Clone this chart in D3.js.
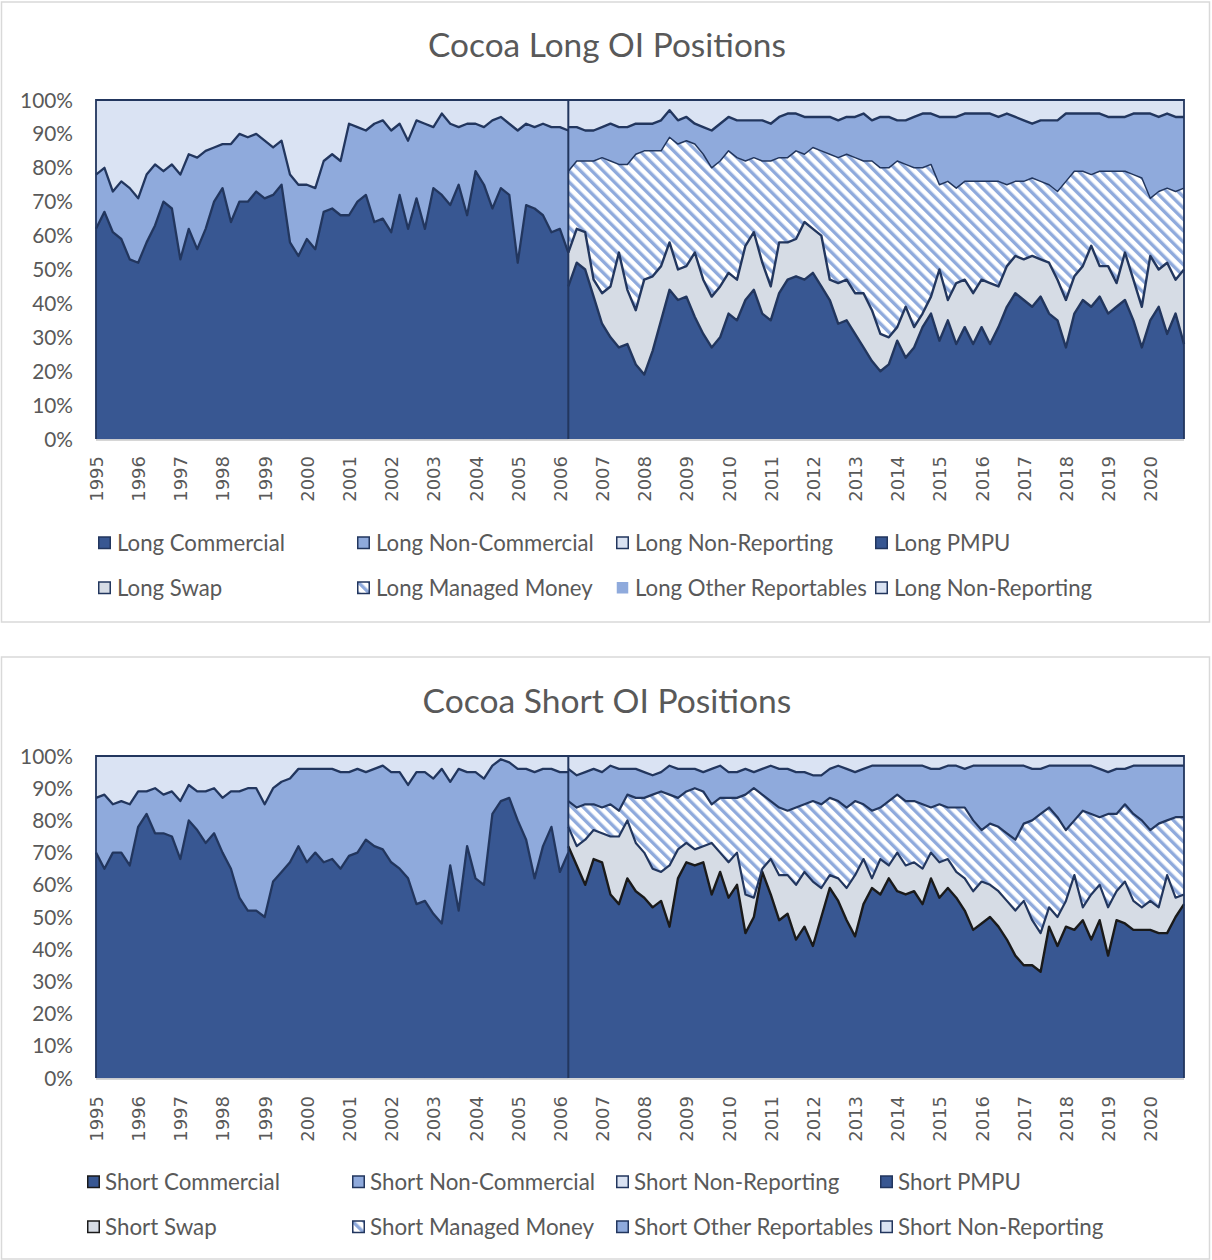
<!DOCTYPE html>
<html><head><meta charset="utf-8">
<script src="https://cdn.jsdelivr.net/npm/d3@7"></script>
<style>body{margin:0;background:#fff}svg{display:block}</style>
</head><body><svg id="c" width="1212" height="1260"></svg>
<script>
// ---------- categories (decimal years) ----------
const preYears = [1995.0,1995.2,1995.4,1995.6,1995.8,1996.0,1996.2,1996.4,1996.6,1996.8,1997.0,1997.2,1997.4,1997.6,1997.8,1998.0,1998.2,1998.4,1998.6,1998.8,1999.0,1999.2,1999.4,1999.6,1999.8,2000.0,2000.2,2000.4,2000.6,2000.8,2001.0,2001.2,2001.4,2001.6,2001.8,2002.0,2002.2,2002.4,2002.6,2002.8,2003.0,2003.2,2003.4,2003.6,2003.8,2004.0,2004.2,2004.4,2004.6,2004.8,2005.0,2005.2,2005.4,2005.6,2005.8,2006.0,2006.2];
const postYears = [2006.2,2006.4,2006.6,2006.8,2007.0,2007.2,2007.4,2007.6,2007.8,2008.0,2008.2,2008.4,2008.6,2008.8,2009.0,2009.2,2009.4,2009.6,2009.8,2010.0,2010.2,2010.4,2010.6,2010.8,2011.0,2011.2,2011.4,2011.6,2011.8,2012.0,2012.2,2012.4,2012.6,2012.8,2013.0,2013.2,2013.4,2013.6,2013.8,2014.0,2014.2,2014.4,2014.6,2014.8,2015.0,2015.2,2015.4,2015.6,2015.8,2016.0,2016.2,2016.4,2016.6,2016.8,2017.0,2017.2,2017.4,2017.6,2017.8,2018.0,2018.2,2018.4,2018.6,2018.8,2019.0,2019.2,2019.4,2019.6,2019.8,2020.0,2020.2,2020.4,2020.6,2020.8];
const yearTicks = ["1995","1996","1997","1998","1999","2000","2001","2002","2003","2004","2005","2006","2007","2008","2009","2010","2011","2012","2013","2014","2015","2016","2017","2018","2019","2020"];
const pctTicks = [0,10,20,30,40,50,60,70,80,90,100];

// ---------- LONG: cumulative levels (% of open interest) ----------
const longCommercial      = [62,67,61,59,53,52,58,63,70,68,53,62,56,62,70,74,64,70,70,73,71,72,75,58,54,59,56,67,68,66,66,70,72,64,65,61,72,62,71,62,74,72,69,75,66,79,75,68,74,72,52,69,68,66,61,62,55];
const longCommPlusNonComm = [78,80,73,76,74,71,78,81,79,81,78,84,83,85,86,87,87,90,89,90,88,86,88,78,75,75,74,82,84,82,93,92,91,93,94,91,93,88,94,93,92,96,93,92,93,93,92,94,95,93,91,93,92,93,92,92,91];
const longPMPU            = [45,52,50,42,34,30,27,28,22,19,26,35,44,41,42,36,31,27,30,37,35,41,44,37,35,43,47,48,47,49,45,41,34,35,31,27,23,20,22,29,24,27,33,37,29,35,28,33,28,33,28,33,39,43,41,39,42,37,35,27,37,41,39,42,37,39,41,35,27,35,39,31,37,28];
const longToSwap          = [55,62,61,47,43,45,55,44,38,47,48,51,58,50,51,55,47,42,45,49,47,57,61,52,45,58,58,59,64,62,60,47,46,47,43,43,38,31,30,33,39,33,37,42,50,41,46,47,43,47,46,45,51,54,53,54,53,52,47,41,48,51,57,51,51,46,55,47,39,54,50,52,47,50];
const longToManagedMoney  = [79,82,82,82,83,82,81,81,84,85,85,85,89,87,88,87,84,80,82,85,83,82,83,82,82,83,83,85,84,86,85,84,83,84,83,82,82,80,80,82,81,80,80,81,75,76,74,76,76,76,76,76,75,76,76,77,76,75,73,76,79,79,78,79,79,79,79,78,77,71,73,74,73,74];
const longToOtherRept     = [92,92,91,91,92,93,92,92,93,93,93,94,97,94,95,93,92,91,93,95,94,94,94,94,93,95,96,96,95,95,95,95,94,95,95,96,94,95,95,94,94,95,96,96,95,95,95,96,96,96,96,95,96,95,94,93,94,94,94,96,96,96,96,96,95,95,95,96,96,96,95,96,95,95];

// ---------- SHORT: cumulative levels (% of open interest) ----------
const shortCommercial      = [70,65,70,70,66,78,82,76,76,75,68,80,77,73,76,70,65,56,52,52,50,61,64,67,72,67,70,67,68,65,69,70,74,72,71,67,65,62,54,55,51,48,66,52,72,62,60,82,86,87,80,74,62,72,78,64,70];
const shortCommPlusNonComm = [87,88,85,86,85,89,89,90,88,89,86,91,89,89,90,87,89,89,90,90,85,90,92,93,96,96,96,96,96,95,95,96,95,96,97,95,95,91,95,95,93,96,92,96,95,95,93,97,99,98,96,96,95,96,96,95,95];
const shortPMPU            = [72,66,60,68,67,57,54,62,58,56,53,55,47,62,67,66,67,57,64,56,60,45,50,64,57,49,51,43,47,41,50,59,55,49,44,54,59,57,62,58,57,58,54,62,56,59,56,52,46,48,50,47,43,38,35,35,33,47,41,47,46,49,43,49,38,49,48,46,46,46,45,45,50,54];
const shortToSwap          = [78,72,74,77,76,75,75,80,73,70,65,64,66,71,73,71,72,73,70,67,70,57,56,65,68,63,63,60,64,61,59,63,62,59,63,68,62,68,66,70,66,67,65,70,67,68,64,62,58,61,60,58,55,52,55,49,45,53,50,55,63,53,57,60,53,58,61,55,53,55,53,63,56,57];
const shortToManagedMoney  = [86,84,85,85,84,85,83,88,87,87,88,89,88,87,89,90,89,85,87,87,87,88,90,88,86,84,83,84,85,86,85,87,86,84,86,85,83,84,86,88,86,86,85,84,85,84,84,84,80,77,79,78,76,74,79,80,82,84,81,77,80,83,82,81,82,82,85,82,80,77,79,80,81,81];
const shortToOtherRept     = [96,94,95,96,95,97,96,96,96,95,94,95,97,96,96,96,95,96,97,95,95,96,95,96,97,96,96,95,95,94,94,96,97,96,95,96,97,97,97,97,97,97,97,96,96,97,97,96,97,97,97,97,97,97,97,96,96,97,97,97,97,97,97,96,95,96,96,97,97,97,97,97,97,97];

const longLegend  = ["Long Commercial","Long Non-Commercial","Long Non-Reporting","Long PMPU","Long Swap","Long Managed Money","Long Other Reportables","Long Non-Reporting"];
const shortLegend = ["Short Commercial","Short Non-Commercial","Short Non-Reporting","Short PMPU","Short Swap","Short Managed Money","Short Other Reportables","Short Non-Reporting"];

// ---------- styling ----------
const C = {dark:"#385792", med:"#8faadc", light:"#dae3f3", swap:"#d6dce5", line:"#22365e", black:"#1a1a1a", text:"#595959", hatch:"url(#hatch)"};
const FONT = "Lato, 'Open Sans', sans-serif";

const svg = d3.select("#c");
const defs = svg.append("defs");
const pat = defs.append("pattern").attr("id","hatch").attr("patternUnits","userSpaceOnUse")
  .attr("width",8).attr("height",8).attr("patternTransform","rotate(-45)");
pat.append("rect").attr("width",8).attr("height",8).attr("fill","#fff");
pat.append("rect").attr("width",3.4).attr("height",8).attr("fill",C.med);

const x = d3.scaleLinear().domain([1995, 2020.8]).range([96, 1184]);

function fitWidth(sel, target){
  const w = sel.node().getComputedTextLength();
  const fs = parseFloat(sel.attr("font-size"));
  return fs * target / w;
}

function drawChart(cfg){
  const g = svg.append("g");
  g.append("rect").attr("x",1.5).attr("y",cfg.panelTop).attr("width",1208).attr("height",cfg.panelH)
    .attr("fill","#fff").attr("stroke","#d9d9d9").attr("stroke-width",1.5);

  const t = g.append("text").text(cfg.title).attr("x",607).attr("y",cfg.titleY)
    .attr("text-anchor","middle").attr("font-family",FONT).attr("font-size",32).attr("fill",C.text);
  t.attr("font-size", fitWidth(t, cfg.titleW));

  const y = d3.scaleLinear().domain([0,100]).range([cfg.bottom, cfg.top]);

  // pre-2006 series (derived from cumulative levels)
  const preRows = preYears.map((yr,i)=>({year:yr,
    comm: cfg.pre[0][i], noncomm: cfg.pre[1][i]-cfg.pre[0][i], nonrep: 100-cfg.pre[1][i]}));
  const preKeys = ["comm","noncomm","nonrep"];
  const preFill = [C.dark, C.med, C.light];
  const preStack = d3.stack().keys(preKeys)(preRows);

  const postRows = postYears.map((yr,i)=>({year:yr,
    pmpu: cfg.post[0][i], swap: cfg.post[1][i]-cfg.post[0][i], mm: cfg.post[2][i]-cfg.post[1][i],
    other: cfg.post[3][i]-cfg.post[2][i], nonrep: 100-cfg.post[3][i]}));
  const postKeys = ["pmpu","swap","mm","other","nonrep"];
  const postFill = [C.dark, C.swap, C.hatch, C.med, C.light];
  const postStack = d3.stack().keys(postKeys)(postRows);

  const area = d3.area().x(d=>x(d.data.year)).y0(d=>y(d[0])).y1(d=>y(d[1]));
  const line = d3.line().x(d=>x(d.data.year)).y(d=>y(d[1])).curve(d3.curveLinear);

  g.selectAll(".pre").data(preStack).join("path").attr("d",area).attr("fill",(d,i)=>preFill[i]).attr("stroke",(d,i)=>preFill[i]).attr("stroke-width",0.5);
  g.selectAll(".post").data(postStack).join("path").attr("d",area).attr("fill",(d,i)=>postFill[i]);

  // outline lines
  preStack.slice(0,2).forEach(s=>{
    g.append("path").attr("d",line(s)).attr("fill","none").attr("stroke",C.line)
      .attr("stroke-width",2.3).attr("stroke-linejoin","round");
  });
  postStack.slice(0,4).forEach((s,i)=>{
    g.append("path").attr("d",line(s)).attr("fill","none")
      .attr("stroke", (i===0 && cfg.blackPMPU) ? C.black : C.line)
      .attr("stroke-width", cfg.lineW[i]).attr("stroke-linejoin","round");
  });

  // split line and frame
  g.append("line").attr("x1",x(2006.2)).attr("x2",x(2006.2)).attr("y1",cfg.top).attr("y2",cfg.bottom)
    .attr("stroke",C.line).attr("stroke-width",2);
  g.append("path").attr("d",`M${x.range()[0]},${cfg.bottom}V${cfg.top}H${x.range()[1]}V${cfg.bottom}`)
    .attr("fill","none").attr("stroke",C.line).attr("stroke-width",1.8);
  g.append("line").attr("x1",x.range()[0]).attr("x2",x.range()[1]).attr("y1",cfg.bottom+1).attr("y2",cfg.bottom+1)
    .attr("stroke","#c9c9c9").attr("stroke-width",1.5);

  // y axis
  const ya = g.append("g").attr("transform",`translate(${x.range()[0]},0)`)
    .call(d3.axisLeft(y).tickValues(pctTicks).tickFormat(d=>d+"%").tickSize(0).tickPadding(23));
  ya.select(".domain").remove();
  ya.selectAll("text").attr("font-family",FONT).attr("fill",C.text).attr("font-size",20).attr("dy","0.34em");
  const yfs = fitWidth(ya.selectAll("text").filter(d=>d===100), 53);
  ya.selectAll("text").attr("font-size",yfs);

  // x axis
  const xa = g.append("g").attr("transform",`translate(0,${cfg.bottom})`)
    .call(d3.axisBottom(x).tickValues(yearTicks.map(Number)).tickFormat(d=>String(d)).tickSize(0));
  xa.select(".domain").remove();
  xa.selectAll("text").attr("font-family","'DejaVu Sans', sans-serif").attr("font-size",18).attr("fill",C.text)
    .attr("transform","rotate(-90)").attr("text-anchor","end").attr("x",-(cfg.xLabelY-cfg.bottom)).attr("y",0).attr("dy","0.36em");

  // legend
  const lg = g.append("g");
  const items = cfg.legend.map((name,i)=>({name, col:i%4, row:Math.floor(i/4), sw:cfg.swatch[i]}));
  const first = lg.append("text").text(items[0].name).attr("font-family",FONT).attr("font-size",20);
  const lfs = fitWidth(first, cfg.legendW); first.remove();
  items.forEach(it=>{
    const cx = cfg.legendX[it.col], cy = cfg.legendY[it.row];
    lg.append("rect").attr("x",cx+0.75).attr("y",cy-6).attr("width",11.5).attr("height",11.5)
      .attr("fill",it.sw[0]).attr("stroke",it.sw[1]||"none").attr("stroke-width",1.5);
    lg.append("text").text(it.name).attr("x",cx+cfg.legendGap).attr("y",cy).attr("dy","0.35em")
      .attr("font-family",FONT).attr("font-size",lfs).attr("fill",C.text);
  });
}

drawChart({
  panelTop:2, panelH:620, title:"Cocoa Long OI Positions", titleY:57, titleW:358,
  top:100, bottom:439, xLabelY:456,
  pre:[longCommercial,longCommPlusNonComm],
  post:[longPMPU,longToSwap,longToManagedMoney,longToOtherRept],
  lineW:[2.4,2.4,1.5,2.4], blackPMPU:false,
  legend:longLegend, legendW:168, legendX:[98,357,616,875], legendY:[543,588], legendGap:19,
  swatch:[[C.dark,C.line],[C.med,C.line],[C.light,C.line],[C.dark,C.line],[C.swap,C.line],[C.hatch,C.line],[C.med,null],[C.light,C.line]]
});
drawChart({
  panelTop:657, panelH:602, title:"Cocoa Short OI Positions", titleY:713, titleW:369,
  top:756, bottom:1078, xLabelY:1096,
  pre:[shortCommercial,shortCommPlusNonComm],
  post:[shortPMPU,shortToSwap,shortToManagedMoney,shortToOtherRept],
  lineW:[2.4,2.2,2.2,2.2], blackPMPU:true,
  legend:shortLegend, legendW:175, legendX:[87,352,616,880], legendY:[1182,1227], legendGap:18,
  swatch:[[C.dark,C.black],[C.med,C.line],[C.light,C.line],[C.dark,C.line],[C.swap,C.black],[C.hatch,C.line],[C.med,C.line],[C.light,C.line]]
});
</script></body></html>
